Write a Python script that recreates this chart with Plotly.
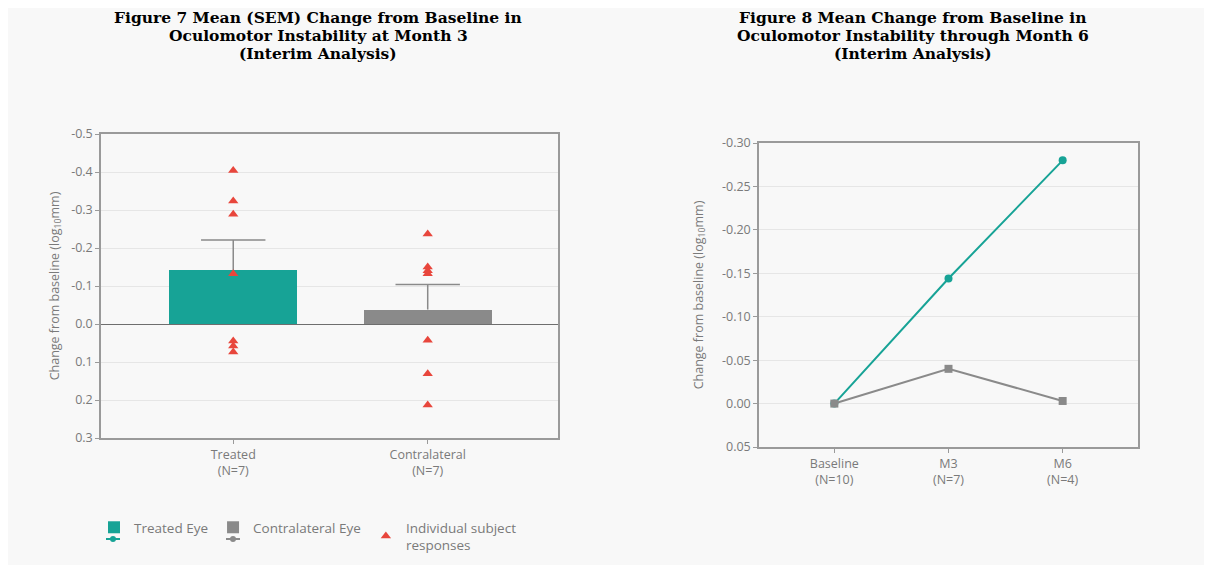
import plotly.graph_objects as go

# ---------------- data ----------------
bar_categories = ["Treated", "Contralateral"]
bar_tick_labels = ["Treated<br>(N=7)", "Contralateral<br>(N=7)"]
bar_means = [-0.141, -0.038]
bar_sem = [0.080, 0.066]
treated_individual = [-0.404, -0.324, -0.289, -0.132, 0.045, 0.058, 0.074]
contra_individual = [-0.237, -0.150, -0.140, -0.132, 0.043, 0.131, 0.213]

left_y_ticks = [-0.5, -0.4, -0.3, -0.2, -0.1, 0.0, 0.1, 0.2, 0.3]

visit_categories = ["Baseline", "M3", "M6"]
visit_tick_labels = ["Baseline<br>(N=10)", "M3<br>(N=7)", "M6<br>(N=4)"]
treated_line = [0.0, -0.144, -0.280]
contra_line = [0.0, -0.040, -0.003]

right_y_ticks = [-0.30, -0.25, -0.20, -0.15, -0.10, -0.05, 0.00, 0.05]

title_left_lines = ["Figure 7 Mean (SEM) Change from Baseline in",
                    "Oculomotor Instability at Month 3",
                    "(Interim Analysis)"]
title_right_lines = ["Figure 8 Mean Change from Baseline in",
                     "Oculomotor Instability through Month 6",
                     "(Interim Analysis)"]

# ---------------- style ----------------
OFF = 8                      # page body margin
W, H = 1212 - OFF, 565 - OFF
TEAL = "#17a396"
GREY = "#8a8a8a"
RED = "#e8463c"
TXT = "#7a7a7a"
BG = "#f8f8f8"
FONT = "Open Sans"


def sx(x):
    return (x - OFF) / W


def sy(y):
    return 1 - (y - OFF) / H


def fmt(v, d):
    return f"{v:.{d}f}".replace("\u2212", "-")


fig = go.Figure()

# left: bars
fig.add_trace(go.Bar(
    x=bar_categories[:1], y=bar_means[:1], width=0.66, marker_color=TEAL,
    marker_line_width=0, name="Treated Eye", xaxis="x", yaxis="y", showlegend=True))
fig.add_trace(go.Bar(
    x=bar_categories[1:], y=bar_means[1:], width=0.66, marker_color=GREY,
    marker_line_width=0, name="Contralateral Eye", xaxis="x", yaxis="y", showlegend=True))

# SEM whiskers (upper only)
wx, wy = [], []
for c, m, s in zip(bar_categories, bar_means, bar_sem):
    wx += [c, c, None]
    wy += [m, m - s, None]
fig.add_trace(go.Scatter(x=wx, y=wy, mode="lines", line=dict(color=GREY, width=1.5),
                         xaxis="x", yaxis="y", showlegend=False, hoverinfo="skip"))
fig.add_trace(go.Scatter(
    x=bar_categories, y=[m - s for m, s in zip(bar_means, bar_sem)], mode="markers",
    marker=dict(symbol="line-ew", size=46, line=dict(color=GREY, width=1.5)),
    xaxis="x", yaxis="y", showlegend=False, hoverinfo="skip"))

# individual responses
ix = [bar_categories[0]] * len(treated_individual) + [bar_categories[1]] * len(contra_individual)
iy = treated_individual + contra_individual
fig.add_trace(go.Scatter(
    x=ix, y=iy, mode="markers", marker=dict(symbol="triangle-up", size=9, color=RED),
    name="Individual subject<br>responses", xaxis="x", yaxis="y", showlegend=True))

# right: lines
fig.add_trace(go.Scatter(
    x=visit_categories, y=treated_line, mode="lines+markers",
    line=dict(color=TEAL, width=2), marker=dict(symbol="circle", size=8, color=TEAL),
    xaxis="x2", yaxis="y2", showlegend=False, name="Treated Eye"))
fig.add_trace(go.Scatter(
    x=visit_categories, y=contra_line, mode="lines+markers",
    line=dict(color=GREY, width=2), marker=dict(symbol="square", size=8, color=GREY),
    xaxis="x2", yaxis="y2", showlegend=False, name="Contralateral Eye"))

axis_common = dict(showline=True, linecolor="#9a9a9a", linewidth=1.5, mirror=True,
                   ticks="outside", ticklen=4, tickcolor="#9a9a9a", tickwidth=1,
                   tickfont=dict(family=FONT, size=12.5, color=TXT), automargin=False)

ytitle = "Change from baseline (log<sub>10</sub>mm)"

# small line+marker glyphs under the legend squares (line chart series)
legend_glyphs = []
for gx, col in [(113, TEAL), (233, GREY)]:
    legend_glyphs.append(dict(type="line", xref="paper", yref="paper",
                              x0=sx(gx - 7), x1=sx(gx + 7), y0=sy(539), y1=sy(539),
                              line=dict(color=col, width=2)))
    legend_glyphs.append(dict(type="circle", xref="paper", yref="paper",
                              x0=sx(gx - 3), x1=sx(gx + 3), y0=sy(542), y1=sy(536),
                              fillcolor=col, line_width=0))

fig.update_layout(
    width=W, height=H,
    margin=dict(l=0, r=0, t=0, b=0),
    paper_bgcolor=BG, plot_bgcolor=BG,
    font=dict(family=FONT, color=TXT),
    bargap=0,
    xaxis=dict(domain=[sx(101), sx(558)], anchor="y", type="category",
               range=[-0.68, 1.67], tickvals=bar_categories, ticktext=bar_tick_labels,
               showgrid=False, **axis_common),
    yaxis=dict(domain=[sy(438), sy(134)], anchor="x", range=[0.3, -0.5],
               tickvals=left_y_ticks, ticktext=[fmt(v, 1) for v in left_y_ticks],
               showgrid=True, gridcolor="#e6e6e6", gridwidth=1,
               zeroline=True, zerolinecolor="#6e6e6e", zerolinewidth=1.2,
               title=dict(text=ytitle, font=dict(family=FONT, size=12.5, color=TXT), standoff=9),
               **axis_common),
    xaxis2=dict(domain=[sx(759), sx(1138)], anchor="y2", type="category",
                range=[-0.66, 2.66], tickvals=visit_categories, ticktext=visit_tick_labels,
                showgrid=False, **axis_common),
    yaxis2=dict(domain=[sy(447), sy(143)], anchor="x2", range=[0.05, -0.30],
                tickvals=right_y_ticks, ticktext=[fmt(v, 2) for v in right_y_ticks],
                showgrid=True, gridcolor="#e6e6e6", gridwidth=1, zeroline=False,
                title=dict(text=ytitle, font=dict(family=FONT, size=12.5, color=TXT), standoff=16),
                **axis_common),
    legend=dict(orientation="h", x=sx(94), y=sy(512), xanchor="left", yanchor="top",
                bgcolor="rgba(0,0,0,0)", font=dict(family=FONT, size=13.5, color=TXT),
                traceorder="normal", itemclick=False),
    shapes=legend_glyphs,
)

line_centers = [17.5, 35.5, 53.5]
for lines, cx in [(title_left_lines, 318), (title_right_lines, 913)]:
    for text, cy in zip(lines, line_centers):
        fig.add_annotation(text=f"<b>{text}</b>", xref="paper", yref="paper",
                           x=sx(cx), y=sy(cy), xanchor="center", yanchor="middle",
                           showarrow=False, align="center",
                           font=dict(family="DejaVu Serif", size=15.5, color="black"))

fig.write_html("out.html")
